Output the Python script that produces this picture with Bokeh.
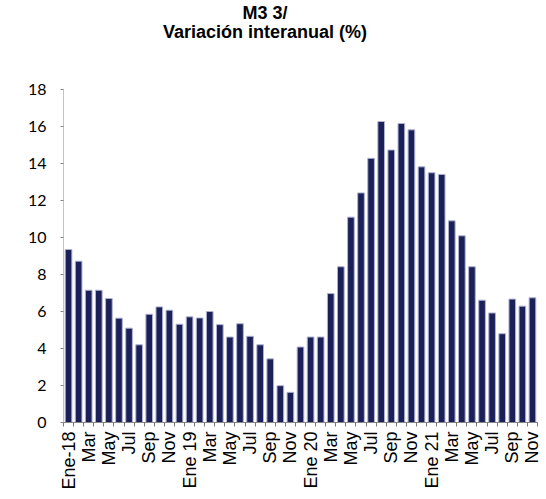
import math
from bokeh.plotting import figure
from bokeh.models import Range1d, FixedTicker, Div
from bokeh.layouts import column
from bokeh.embed import file_html
from bokeh.resources import INLINE

months = ["Ene-18", "Feb", "Mar", "Abr", "May", "Jun", "Jul", "Ago", "Sep", "Oct", "Nov", "Dic",
          "Ene 19", "Feb", "Mar", "Abr", "May", "Jun", "Jul", "Ago", "Sep", "Oct", "Nov", "Dic",
          "Ene 20", "Feb", "Mar", "Abr", "May", "Jun", "Jul", "Ago", "Sep", "Oct", "Nov", "Dic",
          "Ene 21", "Feb", "Mar", "Abr", "May", "Jun", "Jul", "Ago", "Sep", "Oct", "Nov"]

m3_growth = [9.35, 8.72, 7.15, 7.15, 6.70, 5.64, 5.10, 4.20, 5.85, 6.25, 6.07, 5.31,
             5.71, 5.65, 6.00, 5.29, 4.62, 5.34, 4.66, 4.20, 3.44, 1.99, 1.63, 4.08,
             4.62, 4.62, 6.97, 8.42, 11.10, 12.41, 14.28, 16.27, 14.73, 16.16, 15.82, 13.82,
             13.50, 13.41, 10.90, 10.09, 8.42, 6.61, 5.92, 4.80, 6.67, 6.29, 6.74]

y_ticks = [0, 2, 4, 6, 8, 10, 12, 14, 16, 18]
title_lines = ["M3 3/", "Variación interanual (%)"]

n = len(m3_growth)
xs = [i + 0.5 for i in range(n)]

title_div = Div(
    text="<div style=\"width:538px; text-align:center; "
         "font-family:'Liberation Sans', Arial, sans-serif; "
         "font-weight:bold; font-size:18px; line-height:19px; color:black; "
         "padding-top:4px; padding-right:8px;\">" + "<br>".join(title_lines) + "</div>",
    width=546, height=44, margin=(0, 0, 0, 0))

p = figure(width=546, height=455, output_backend="svg", toolbar_location=None,
           x_range=Range1d(0, n), y_range=Range1d(0, 18),
           min_border_left=63, min_border_right=9, min_border_top=45, min_border_bottom=77,
           margin=(0, 0, 0, 0))
p.outline_line_color = None
p.grid.grid_line_color = None

p.vbar(x=xs, top=m3_growth, width=0.66, fill_color="#1b2058", line_color="#aeb2d0", line_width=1)

# x axis
label_ticks = [xs[i] for i in range(0, n, 2)]
p.xaxis.ticker = FixedTicker(ticks=label_ticks, minor_ticks=list(range(0, n + 1)))
p.xaxis.major_label_overrides = {xs[i]: months[i] for i in range(0, n, 2)}
p.xaxis.major_label_orientation = math.pi / 2
p.xaxis.major_tick_line_color = None
p.xaxis.minor_tick_in = 0
p.xaxis.minor_tick_out = 4
p.xaxis.minor_tick_line_color = "#777777"
p.xaxis.axis_line_color = "#888888"
p.xaxis.major_label_text_font = "Liberation Sans"
p.xaxis.major_label_text_font_size = "18px"
p.xaxis.major_label_text_color = "black"
p.xaxis.major_label_standoff = 3

# y axis
p.yaxis.ticker = FixedTicker(ticks=y_ticks)
p.yaxis.minor_tick_line_color = None
p.yaxis.major_tick_in = 0
p.yaxis.major_tick_out = 3
p.yaxis.major_tick_line_color = "#888888"
p.yaxis.axis_line_color = "#888888"
p.yaxis.axis_line_dash = "1 1"
p.yaxis.major_label_text_font = "Lato"
p.yaxis.major_label_text_font_size = "16px"
p.yaxis.major_label_text_color = "black"
p.yaxis.major_label_standoff = 14

layout = column(title_div, p, spacing=0)
open("out.html", "w").write(file_html(layout, INLINE))
